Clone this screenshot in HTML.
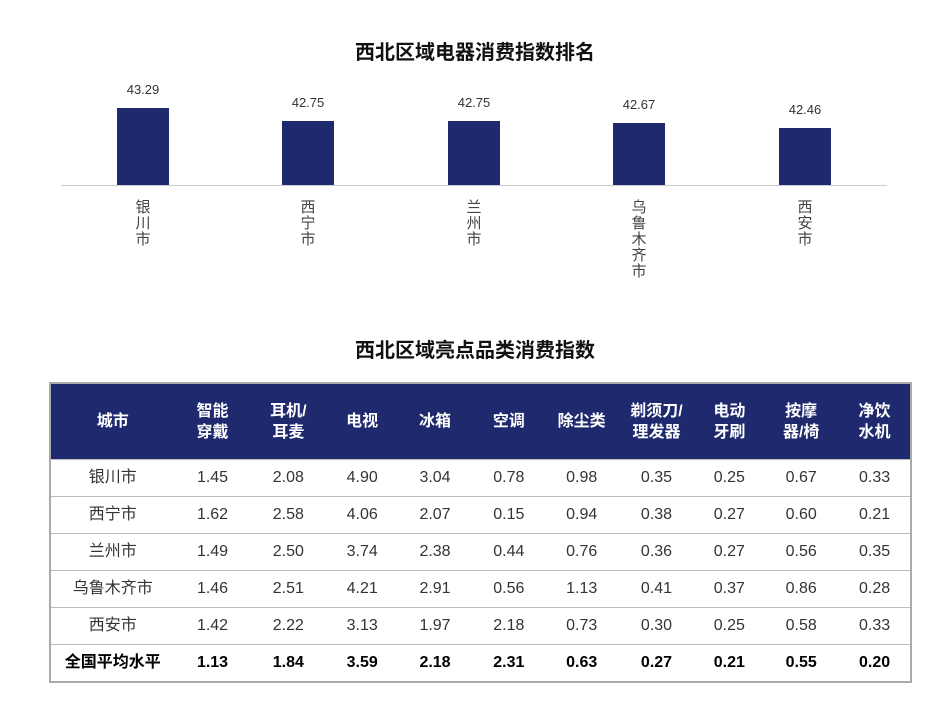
<!DOCTYPE html>
<html><head><meta charset="utf-8"><style>
body{margin:0;width:950px;height:704px;background:#fff;font-family:"Liberation Sans","Noto Sans CJK SC",sans-serif;position:relative;overflow:hidden}
.t{position:absolute;left:0;width:950px;text-align:center;font-size:20px;font-weight:bold;color:#111;line-height:26px}
.bar{position:absolute;width:52px;background:#1f2a6e}
.v{position:absolute;width:80px;text-align:center;font-size:13px;color:#333;line-height:16px}
.c{position:absolute;width:40px;text-align:center;font-size:15px;line-height:16px;color:#444;top:200px}
table{position:absolute;left:49px;top:382px;width:863px;border-collapse:collapse;border:2px solid #aaa}
td{text-align:center;font-size:16px;color:#333;height:36px;line-height:36px;border-top:1.5px solid #bbb;padding:0;vertical-align:middle}
tr.h td{background:#1f2a6e;color:#fff;font-weight:bold;height:75px;line-height:21px;border:none}
tr.b td{font-weight:bold;color:#000}
</style></head><body>
<div class="t" style="top:40px">西北区域电器消费指数排名</div>
<div style="position:absolute;left:61px;top:185px;width:826px;height:1px;background:#ccc"></div>
<div class="bar" style="left:117px;top:108px;height:77px"></div>
<div class="bar" style="left:282px;top:121px;height:64px"></div>
<div class="bar" style="left:448px;top:121px;height:64px"></div>
<div class="bar" style="left:613px;top:123px;height:62px"></div>
<div class="bar" style="left:779px;top:128px;height:57px"></div>
<div class="v" style="left:103px;top:82px">43.29</div>
<div class="v" style="left:268px;top:95px">42.75</div>
<div class="v" style="left:434px;top:95px">42.75</div>
<div class="v" style="left:599px;top:97px">42.67</div>
<div class="v" style="left:765px;top:102px">42.46</div>
<div class="c" style="left:123px">银<br>川<br>市</div>
<div class="c" style="left:288px">西<br>宁<br>市</div>
<div class="c" style="left:454px">兰<br>州<br>市</div>
<div class="c" style="left:619px">乌<br>鲁<br>木<br>齐<br>市</div>
<div class="c" style="left:785px">西<br>安<br>市</div>
<div class="t" style="top:338px">西北区域亮点品类消费指数</div>
<table>
<colgroup><col style="width:125px"><col style="width:76px"><col style="width:76px"><col style="width:72px"><col style="width:74px"><col style="width:74px"><col style="width:72px"><col style="width:78px"><col style="width:68px"><col style="width:76px"><col style="width:72px"></colgroup>
<tr class="h"><td>城市</td><td>智能<br>穿戴</td><td>耳机/<br>耳麦</td><td>电视</td><td>冰箱</td><td>空调</td><td>除尘类</td><td>剃须刀/<br>理发器</td><td>电动<br>牙刷</td><td>按摩<br>器/椅</td><td>净饮<br>水机</td></tr>
<tr><td>银川市</td><td>1.45</td><td>2.08</td><td>4.90</td><td>3.04</td><td>0.78</td><td>0.98</td><td>0.35</td><td>0.25</td><td>0.67</td><td>0.33</td></tr>
<tr><td>西宁市</td><td>1.62</td><td>2.58</td><td>4.06</td><td>2.07</td><td>0.15</td><td>0.94</td><td>0.38</td><td>0.27</td><td>0.60</td><td>0.21</td></tr>
<tr><td>兰州市</td><td>1.49</td><td>2.50</td><td>3.74</td><td>2.38</td><td>0.44</td><td>0.76</td><td>0.36</td><td>0.27</td><td>0.56</td><td>0.35</td></tr>
<tr><td>乌鲁木齐市</td><td>1.46</td><td>2.51</td><td>4.21</td><td>2.91</td><td>0.56</td><td>1.13</td><td>0.41</td><td>0.37</td><td>0.86</td><td>0.28</td></tr>
<tr><td>西安市</td><td>1.42</td><td>2.22</td><td>3.13</td><td>1.97</td><td>2.18</td><td>0.73</td><td>0.30</td><td>0.25</td><td>0.58</td><td>0.33</td></tr>
<tr class="b"><td>全国平均水平</td><td>1.13</td><td>1.84</td><td>3.59</td><td>2.18</td><td>2.31</td><td>0.63</td><td>0.27</td><td>0.21</td><td>0.55</td><td>0.20</td></tr>
</table>
</body></html>
